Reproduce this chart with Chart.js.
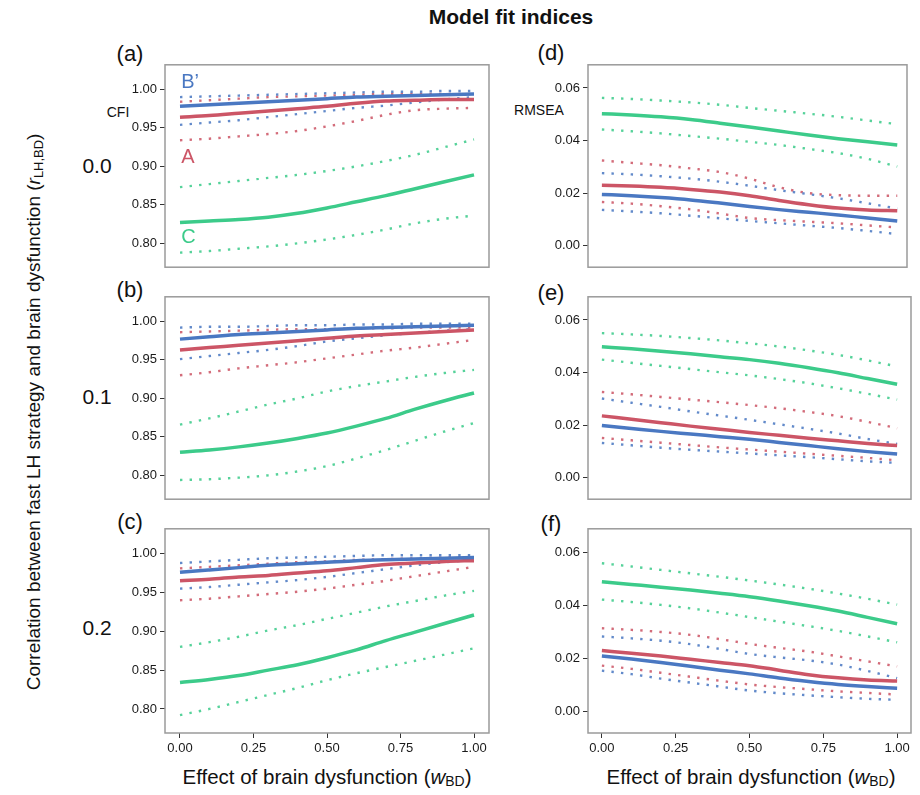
<!DOCTYPE html>
<html>
<head>
<meta charset="utf-8">
<script src="https://cdn.jsdelivr.net/npm/chart.js@4.4.0/dist/chart.umd.min.js"></script>
<style>
body{margin:0;background:#fff;width:920px;height:795px;position:relative;overflow:hidden;font-family:"Liberation Sans",Arial,sans-serif;color:#111}
canvas{position:absolute}
.t{position:absolute;white-space:nowrap;transform:translate(-50%,-50%);line-height:1}
.title{font-family:"Liberation Sans Narrow","Liberation Sans",Arial,sans-serif;font-weight:bold;font-size:21px}
.lab{font-size:22px}
.ax{font-size:14px}
.big{font-size:21px}
.xt{font-size:20.5px}
sub{font-size:0.68em;vertical-align:-0.2em}
#ytitle{font-size:19px;transform:translate(-50%,-50%) rotate(-90deg)}
</style>
</head>
<body>
<div class="t title" style="left:511px;top:16px">Model fit indices</div>

<div class="t lab" style="left:130px;top:54px">(a)</div>
<div class="t lab" style="left:130px;top:290px">(b)</div>
<div class="t lab" style="left:130px;top:522px">(c)</div>
<div class="t lab" style="left:551px;top:53px">(d)</div>
<div class="t lab" style="left:551px;top:293px">(e)</div>
<div class="t lab" style="left:551px;top:524px">(f)</div>

<div class="t ax" style="left:118px;top:112px">CFI</div>
<div class="t ax" style="left:539px;top:110px">RMSEA</div>

<div class="t big" style="left:97px;top:165px">0.0</div>
<div class="t big" style="left:97px;top:396px">0.1</div>
<div class="t big" style="left:97px;top:627px">0.2</div>

<div class="t" id="ytitle" style="left:35px;top:412px">Correlation between fast LH strategy and brain dysfunction (<i>r</i><sub>LH,BD</sub>)</div>
<div class="t xt" style="left:327px;top:778px">Effect of brain dysfunction (<i>w</i><sub>BD</sub>)</div>
<div class="t xt" style="left:751px;top:778px">Effect of brain dysfunction (<i>w</i><sub>BD</sub>)</div>

<canvas id="pa"></canvas>
<canvas id="pb"></canvas>
<canvas id="pc"></canvas>
<canvas id="pd"></canvas>
<canvas id="pe"></canvas>
<canvas id="pf"></canvas>

<script>
// x values: effect of brain dysfunction
var wBD = [0, 0.1, 0.2, 0.3, 0.4, 0.5, 0.6, 0.7, 0.8, 0.9, 1.0];
var xTicks = [0, 0.25, 0.5, 0.75, 1.0];
var cfiTicks = [0.80, 0.85, 0.90, 0.95, 1.00];
var rmseaTicks = [0.00, 0.02, 0.04, 0.06];

// (a) CFI, r = 0.0
var a_B    = [0.978, 0.980, 0.982, 0.984, 0.986, 0.988, 0.990, 0.991, 0.992, 0.993, 0.994];
var a_B_hi = [0.990, 0.991, 0.992, 0.993, 0.994, 0.995, 0.996, 0.997, 0.997, 0.998, 0.998];
var a_B_lo = [0.954, 0.957, 0.960, 0.964, 0.968, 0.972, 0.976, 0.979, 0.983, 0.987, 0.990];
var a_A    = [0.964, 0.966, 0.969, 0.972, 0.975, 0.978, 0.982, 0.985, 0.986, 0.987, 0.987];
var a_A_hi = [0.984, 0.986, 0.988, 0.990, 0.991, 0.992, 0.993, 0.994, 0.994, 0.994, 0.994];
var a_A_lo = [0.934, 0.936, 0.939, 0.942, 0.946, 0.952, 0.959, 0.967, 0.973, 0.975, 0.976];
var a_C    = [0.827, 0.829, 0.831, 0.834, 0.839, 0.846, 0.854, 0.862, 0.871, 0.880, 0.889];
var a_C_hi = [0.873, 0.877, 0.881, 0.885, 0.889, 0.894, 0.900, 0.907, 0.915, 0.925, 0.935];
var a_C_lo = [0.788, 0.790, 0.793, 0.796, 0.800, 0.805, 0.811, 0.818, 0.826, 0.832, 0.836];

// (b) CFI, r = 0.1
var b_B    = [0.977, 0.980, 0.983, 0.985, 0.987, 0.989, 0.991, 0.992, 0.993, 0.994, 0.995];
var b_B_hi = [0.992, 0.993, 0.993, 0.994, 0.995, 0.995, 0.996, 0.996, 0.997, 0.997, 0.997];
var b_B_lo = [0.951, 0.955, 0.959, 0.963, 0.968, 0.974, 0.978, 0.982, 0.985, 0.988, 0.990];
var b_A    = [0.963, 0.966, 0.969, 0.972, 0.975, 0.978, 0.981, 0.983, 0.985, 0.987, 0.989];
var b_A_hi = [0.986, 0.987, 0.988, 0.989, 0.990, 0.990, 0.991, 0.991, 0.992, 0.992, 0.992];
var b_A_lo = [0.930, 0.934, 0.939, 0.943, 0.947, 0.952, 0.957, 0.962, 0.966, 0.971, 0.976];
var b_C    = [0.830, 0.833, 0.837, 0.842, 0.848, 0.855, 0.864, 0.874, 0.886, 0.897, 0.907];
var b_C_hi = [0.866, 0.874, 0.883, 0.892, 0.900, 0.909, 0.916, 0.922, 0.928, 0.933, 0.937];
var b_C_lo = [0.794, 0.795, 0.797, 0.800, 0.805, 0.812, 0.822, 0.833, 0.845, 0.857, 0.868];

// (c) CFI, r = 0.2
var c_B    = [0.976, 0.979, 0.982, 0.985, 0.987, 0.989, 0.991, 0.992, 0.993, 0.994, 0.995];
var c_B_hi = [0.988, 0.990, 0.992, 0.994, 0.995, 0.996, 0.997, 0.998, 0.998, 0.998, 0.998];
var c_B_lo = [0.955, 0.957, 0.960, 0.963, 0.966, 0.970, 0.975, 0.980, 0.985, 0.989, 0.992];
var c_A    = [0.965, 0.967, 0.970, 0.972, 0.975, 0.978, 0.982, 0.986, 0.988, 0.990, 0.991];
var c_A_hi = [0.981, 0.983, 0.985, 0.987, 0.989, 0.990, 0.992, 0.993, 0.994, 0.995, 0.996];
var c_A_lo = [0.940, 0.942, 0.945, 0.948, 0.951, 0.955, 0.960, 0.965, 0.971, 0.977, 0.983];
var c_C    = [0.834, 0.838, 0.843, 0.850, 0.857, 0.866, 0.876, 0.888, 0.899, 0.910, 0.921];
var c_C_hi = [0.880, 0.886, 0.893, 0.901, 0.908, 0.916, 0.924, 0.932, 0.939, 0.946, 0.952];
var c_C_lo = [0.792, 0.800, 0.809, 0.818, 0.827, 0.837, 0.846, 0.854, 0.862, 0.870, 0.878];

// (d) RMSEA, r = 0.0
var d_B    = [0.0195, 0.0190, 0.0183, 0.0174, 0.0162, 0.0149, 0.0137, 0.0127, 0.0117, 0.0105, 0.0094];
var d_B_hi = [0.0276, 0.0271, 0.0264, 0.0255, 0.0243, 0.0228, 0.0211, 0.0196, 0.0180, 0.0161, 0.0141];
var d_B_lo = [0.0136, 0.0130, 0.0123, 0.0114, 0.0104, 0.0094, 0.0085, 0.0076, 0.0067, 0.0056, 0.0044];
var d_A    = [0.0230, 0.0227, 0.0222, 0.0214, 0.0204, 0.0190, 0.0172, 0.0156, 0.0143, 0.0136, 0.0133];
var d_A_hi = [0.0324, 0.0315, 0.0306, 0.0294, 0.0280, 0.0255, 0.0222, 0.0200, 0.0192, 0.0190, 0.0190];
var d_A_lo = [0.0166, 0.0160, 0.0150, 0.0138, 0.0122, 0.0105, 0.0097, 0.0091, 0.0085, 0.0077, 0.0069];
var d_C    = [0.0502, 0.0497, 0.0490, 0.0480, 0.0466, 0.0451, 0.0436, 0.0421, 0.0407, 0.0395, 0.0383];
var d_C_hi = [0.0562, 0.0558, 0.0552, 0.0545, 0.0536, 0.0524, 0.0513, 0.0502, 0.0490, 0.0476, 0.0462];
var d_C_lo = [0.0442, 0.0435, 0.0427, 0.0417, 0.0407, 0.0395, 0.0383, 0.0368, 0.0352, 0.0330, 0.0301];

// (e) RMSEA, r = 0.1
var e_B    = [0.0198, 0.0187, 0.0176, 0.0166, 0.0156, 0.0146, 0.0134, 0.0122, 0.0110, 0.0099, 0.0090];
var e_B_hi = [0.0301, 0.0285, 0.0269, 0.0252, 0.0236, 0.0220, 0.0203, 0.0186, 0.0168, 0.0147, 0.0128];
var e_B_lo = [0.0132, 0.0123, 0.0114, 0.0106, 0.0099, 0.0092, 0.0085, 0.0078, 0.0070, 0.0062, 0.0056];
var e_A    = [0.0235, 0.0222, 0.0209, 0.0196, 0.0184, 0.0172, 0.0161, 0.0150, 0.0140, 0.0130, 0.0122];
var e_A_hi = [0.0326, 0.0317, 0.0307, 0.0297, 0.0287, 0.0276, 0.0264, 0.0250, 0.0234, 0.0212, 0.0188];
var e_A_lo = [0.0151, 0.0142, 0.0133, 0.0124, 0.0115, 0.0107, 0.0099, 0.0091, 0.0083, 0.0075, 0.0066];
var e_C    = [0.0498, 0.0490, 0.0481, 0.0471, 0.0460, 0.0449, 0.0435, 0.0418, 0.0399, 0.0377, 0.0355];
var e_C_hi = [0.0550, 0.0545, 0.0539, 0.0531, 0.0522, 0.0511, 0.0499, 0.0484, 0.0467, 0.0446, 0.0423];
var e_C_lo = [0.0449, 0.0437, 0.0425, 0.0413, 0.0401, 0.0389, 0.0375, 0.0359, 0.0340, 0.0319, 0.0297];

// (f) RMSEA, r = 0.2
var f_B    = [0.0208, 0.0197, 0.0184, 0.0170, 0.0155, 0.0141, 0.0125, 0.0112, 0.0101, 0.0093, 0.0087];
var f_B_hi = [0.0282, 0.0275, 0.0266, 0.0253, 0.0235, 0.0216, 0.0203, 0.0192, 0.0176, 0.0152, 0.0125];
var f_B_lo = [0.0153, 0.0140, 0.0123, 0.0108, 0.0093, 0.0078, 0.0068, 0.0060, 0.0053, 0.0047, 0.0043];
var f_A    = [0.0229, 0.0219, 0.0208, 0.0196, 0.0184, 0.0172, 0.0155, 0.0138, 0.0126, 0.0118, 0.0114];
var f_A_hi = [0.0313, 0.0307, 0.0299, 0.0288, 0.0272, 0.0254, 0.0239, 0.0225, 0.0207, 0.0188, 0.0169];
var f_A_lo = [0.0172, 0.0160, 0.0145, 0.0130, 0.0115, 0.0101, 0.0091, 0.0083, 0.0075, 0.0069, 0.0063];
var f_C    = [0.0488, 0.0478, 0.0468, 0.0457, 0.0445, 0.0432, 0.0416, 0.0398, 0.0378, 0.0354, 0.0330];
var f_C_hi = [0.0558, 0.0546, 0.0533, 0.0520, 0.0507, 0.0493, 0.0478, 0.0462, 0.0444, 0.0424, 0.0402];
var f_C_lo = [0.0421, 0.0412, 0.0401, 0.0388, 0.0372, 0.0355, 0.0338, 0.0321, 0.0303, 0.0282, 0.0260];

// model labels drawn in panel (a)
var noteText = ['B\u2019', 'A', 'C'];
var noteY = [1.0095, 0.911, 0.807];
var noteX = 0.028;

var blue = '#4a78c2', red = '#cc5566', green = '#3ccb8a';

Chart.defaults.font.family = '"Liberation Sans", Arial, sans-serif';
Chart.defaults.font.size = 13;
Chart.defaults.color = '#1a1a1a';

var framePlugin = {
	id: 'frame',
	afterDraw: function(chart){
		var a = chart.chartArea, c = chart.ctx;
		c.save();
		c.strokeStyle = '#9a9a9a';
		c.lineWidth = 1.5;
		c.strokeRect(a.left, a.top, a.right - a.left, a.bottom - a.top);
		c.restore();
	}
};

var notePlugin = {
	id: 'notes',
	afterDatasetsDraw: function(chart, args, opts){
		if (!opts.show) return;
		var c = chart.ctx, xs = chart.scales.x, ys = chart.scales.y;
		var cols = [blue, red, green];
		c.save();
		c.font = '20px "Liberation Sans", Arial, sans-serif';
		c.textBaseline = 'middle';
		c.textAlign = 'left';
		for (var i = 0; i < noteText.length; i++) {
			c.fillStyle = cols[i];
			c.fillText(noteText[i], xs.getPixelForValue(noteX) - 7, ys.getPixelForValue(noteY[i]));
		}
		c.restore();
	}
};

function line(data, color, dotted){
	return {
		data: data.map(function(v, i){ return {x: wBD[i], y: v}; }),
		borderColor: dotted ? color + 'dd' : color,
		borderWidth: dotted ? 2.4 : 3.5,
		borderDash: dotted ? [2.4, 7.2] : [],
		pointRadius: 0,
		cubicInterpolationMode: 'monotone',
		fill: false
	};
}

function panel(id, box, series, yMin, yMax, yTicks, xMin, xMax, showX, notes){
	var yW = 52, padTop = 10, padRight = 12, padBottom = 10, xH = 26;
	var cv = document.getElementById(id);
	var w = box.right - box.left + yW + padRight;
	var h = box.bottom - box.top + padTop + padBottom + (showX ? xH : 0);
	cv.width = w; cv.height = h;
	cv.style.left = (box.left - yW) + 'px';
	cv.style.top = (box.top - padTop) + 'px';
	cv.style.width = w + 'px'; cv.style.height = h + 'px';

	var ds = series.map(function(s){ return line(s[0], s[1], s[2]); });

	new Chart(cv.getContext('2d'), {
		type: 'line',
		data: { datasets: ds },
		options: {
			responsive: false,
			animation: false,
			layout: { padding: { left: 0, top: padTop, right: padRight, bottom: padBottom } },
			plugins: { legend: { display: false }, tooltip: { enabled: false }, notes: { show: notes } },
			scales: {
				x: {
					type: 'linear', min: xMin, max: xMax, display: showX,
					afterBuildTicks: function(s){ s.ticks = xTicks.map(function(v){ return {value: v}; }); },
					afterFit: function(s){ s.height = showX ? xH : 0; },
					ticks: { padding: 3, callback: function(v){ return v.toFixed(2); } },
					grid: { drawOnChartArea: false, drawTicks: true, tickLength: 5, color: '#333' },
					border: { display: false }
				},
				y: {
					type: 'linear', min: yMin, max: yMax,
					afterBuildTicks: function(s){ s.ticks = yTicks.map(function(v){ return {value: v}; }); },
					afterFit: function(s){ s.width = yW; },
					ticks: { padding: 3, callback: function(v){ return v.toFixed(2); } },
					grid: { drawOnChartArea: false, drawTicks: true, tickLength: 5, color: '#333' },
					border: { display: false }
				}
			}
		},
		plugins: [framePlugin, notePlugin]
	});
}

function set(B, Bh, Bl, A, Ah, Al, C, Ch, Cl){
	return [[B, blue, false], [A, red, false], [C, green, false],
		[Bh, blue, true], [Bl, blue, true], [Ah, red, true], [Al, red, true],
		[Ch, green, true], [Cl, green, true]];
}

panel('pa', {left:165, right:489, top:64, bottom:268}, set(a_B, a_B_hi, a_B_lo, a_A, a_A_hi, a_A_lo, a_C, a_C_hi, a_C_lo), 0.769, 1.032, cfiTicks, -0.051, 1.051, false, true);
panel('pb', {left:165, right:489, top:296, bottom:500}, set(b_B, b_B_hi, b_B_lo, b_A, b_A_hi, b_A_lo, b_C, b_C_hi, b_C_lo), 0.769, 1.032, cfiTicks, -0.051, 1.051, false, false);
panel('pc', {left:165, right:489, top:528, bottom:733}, set(c_B, c_B_hi, c_B_lo, c_A, c_A_hi, c_A_lo, c_C, c_C_hi, c_C_lo), 0.769, 1.032, cfiTicks, -0.051, 1.051, true, false);
panel('pd', {left:588, right:907, top:64, bottom:268}, set(d_B, d_B_hi, d_B_lo, d_A, d_A_hi, d_A_lo, d_C, d_C_hi, d_C_lo), -0.0082, 0.0688, rmseaTicks, -0.047, 1.033, false, false);
panel('pe', {left:588, right:911, top:296, bottom:500}, set(e_B, e_B_hi, e_B_lo, e_A, e_A_hi, e_A_lo, e_C, e_C_hi, e_C_lo), -0.0082, 0.0688, rmseaTicks, -0.047, 1.047, false, false);
panel('pf', {left:588, right:911, top:528, bottom:733}, set(f_B, f_B_hi, f_B_lo, f_A, f_A_hi, f_A_lo, f_C, f_C_hi, f_C_lo), -0.0082, 0.0688, rmseaTicks, -0.047, 1.047, true, false);
</script>
</body>
</html>
